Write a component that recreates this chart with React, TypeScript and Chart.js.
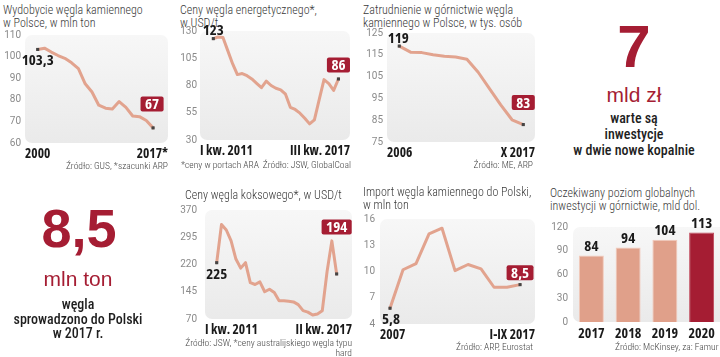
import React, { useEffect, useRef } from 'react';
import { Chart, registerables } from 'chart.js';
Chart.register(...registerables);

const COND = '"Open Sans", Roboto, sans-serif';
const CW = 'bold condensed';
const ARIAL = '"Liberation Sans", Arial, sans-serif';
const LIGHT = 'Roboto, "Open Sans", sans-serif';
const LINE = '#E2A38E';
const RED = '#A51D33';

// 1. Wydobycie węgla kamiennego w Polsce, mln ton (2000–2017)
const outputLabels = ['2000', '2017*'];
const outputValues = [103.3, 103.9, 102.1, 100.5, 99.2, 97.1, 94.4, 87.4, 83.6, 77.5, 76.1, 75.7, 79.2, 76.5, 72.5, 72.2, 70.4, 67];
const outputTicks = [60, 110, 10];

// 2. Ceny węgla energetycznego, USD/t (I kw. 2011 – III kw. 2017)
const steamLabels = ['I kw. 2011', 'III kw. 2017'];
const steamValues = [123, 124.5, 124, 112, 100, 90, 91, 89, 86, 82, 78, 84, 80, 77.5, 76, 72, 60, 58, 54.6, 50, 44.8, 48.5, 67, 85.4, 81.7, 75.5, 86];
const steamTicks = [30, 130, 25];

// 3. Zatrudnienie, tys. osób (2006 – X 2017)
const jobsLabels = ['2006', 'X 2017'];
const jobsValues = [119, 116.2, 116, 115, 114.3, 114, 113, 107, 99.5, 92, 85.2, 83];
const jobsTicks = [75, 125, 10];

// 4. Ceny węgla koksowego, USD/t (I kw. 2011 – II kw. 2017)
const cokingLabels = ['I kw. 2011', 'II kw. 2017'];
const cokingValues = [225, 330, 315, 285, 235, 210, 225, 170, 165, 172, 145, 152, 143, 120, 120, 119, 117, 109.5, 93, 89, 81, 84, 92.5, 200, 285, 194];
const cokingTicks = [70, 370, 75];

// 5. Import węgla kamiennego, mln ton (2007 – I-IX 2017)
const importLabels = ['2007', 'I-IX 2017'];
const importValues = [5.8, 10.2, 10.9, 14.3, 14.95, 10.1, 10.8, 10.3, 8.2, 8.2, 8.5];
const importTicks = [4, 16, 3];

// 6. Oczekiwany poziom globalnych inwestycji w górnictwie, mld dol.
const investYears = ['2017', '2018', '2019', '2020'];
const investValues = [84, 94, 104, 113];
const investTicks = [0, 120, 30];

const fmt = (v: number) => String(v).replace('.', ',');

function bgPlugin(extendRight = 0) {
  return {
    id: 'panelBg',
    beforeDraw(chart: any) {
      const { ctx, chartArea } = chart;
      const { left, top, right, bottom } = chartArea;
      const g = ctx.createLinearGradient(0, top, 0, bottom);
      g.addColorStop(0, '#F7F7F7');
      g.addColorStop(1, '#EAEAEA');
      ctx.save();
      ctx.fillStyle = g;
      ctx.beginPath();
      ctx.roundRect(left, top, right - left + extendRight, bottom - top, 7);
      ctx.fill();
      ctx.restore();
    },
  };
}

type Lab = { index: number; dx: number; dy: number; boxed: boolean };

function labelPlugin(values: number[], labs: Lab[]) {
  return {
    id: 'valueLabels',
    afterDatasetsDraw(chart: any) {
      const { ctx } = chart;
      const meta = chart.getDatasetMeta(0);
      ctx.save();
      ctx.font = `${CW} 15px ${COND}`;
      ctx.textAlign = 'center';
      ctx.textBaseline = 'middle';
      for (const l of labs) {
        const el = meta.data[l.index];
        const x = el.x + l.dx;
        const y = el.y + l.dy;
        const text = fmt(values[l.index]);
        const w = ctx.measureText(text).width;
        if (l.boxed) {
          ctx.fillStyle = RED;
          ctx.beginPath();
          ctx.roundRect(x - w / 2 - 4.5, y - 7.5, w + 9, 15, 2);
          ctx.fill();
          ctx.fillStyle = '#FFFFFF';
        } else {
          ctx.fillStyle = '#1A1A1A';
        }
        ctx.fillText(text, x, y + 1);
      }
      ctx.restore();
    },
  };
}

type LineProps = {
  values: number[];
  xLabels: string[];
  yTicks: number[];
  area: [number, number, number, number]; // left, top, right, bottom (page px)
  xRange: [number, number];
  yW: number;
  yPad: number;
  labs: Lab[];
};

function MiniLine({ values, xLabels, yTicks, area, xRange, yW, yPad, labs }: LineProps) {
  const ref = useRef<HTMLCanvasElement>(null);
  const padT = 9, padR = 4, H = 20;
  const [L, T, R, B] = area;
  const left = L - yW, top = T - padT;
  const width = yW + (R - L) + padR;
  const height = padT + (B - T) + H;
  useEffect(() => {
    const chart = new Chart(ref.current!, {
      type: 'line',
      data: {
        datasets: [{
          data: values.map((v, i) => ({ x: i, y: v })),
          borderColor: LINE,
          borderWidth: 3,
          borderJoinStyle: 'round',
          borderCapStyle: 'round',
          tension: 0,
          pointRadius: values.map((_, i) => (i === 0 || i === values.length - 1 ? 2.2 : 0)),
          pointStyle: 'rect',
          pointBackgroundColor: '#444',
          pointBorderWidth: 0,
        }],
      },
      options: {
        animation: false,
        responsive: false,
        layout: { padding: { top: padT, right: padR, left: 0, bottom: 0 } },
        plugins: { legend: { display: false }, tooltip: { enabled: false } },
        scales: {
          x: {
            type: 'linear',
            min: xRange[0],
            max: xRange[1],
            grid: { display: false, drawTicks: false },
            border: { display: false },
            afterBuildTicks: (s: any) => { s.ticks = [{ value: xRange[0] }, { value: xRange[1] }]; },
            afterFit: (s: any) => { s.height = H; },
            ticks: {
              autoSkip: false,
              maxRotation: 0,
              minRotation: 0,
              align: 'inner',
              padding: 3,
              color: '#1A1A1A',
              font: { family: COND, size: 13.5, weight: CW },
              callback: (_v: any, i: number) => xLabels[i],
            },
          },
          y: {
            min: yTicks[0],
            max: yTicks[1],
            grid: { display: false, drawTicks: false },
            border: { display: false },
            afterFit: (s: any) => { s.width = yW; },
            ticks: {
              stepSize: yTicks[2],
              padding: yPad,
              color: '#8A8A8A',
              font: { family: LIGHT, size: 10 },
            },
          },
        },
      } as any,
      plugins: [bgPlugin(), labelPlugin(values, labs)],
    });
    return () => chart.destroy();
  }, []);
  return (
    <canvas ref={ref} width={width} height={height}
      style={{ position: 'absolute', left, top, width, height }} />
  );
}

function Bars() {
  const ref = useRef<HTMLCanvasElement>(null);
  const L = 573, T = 227, R = 720, B = 322;
  const yW = 26, padT = 20, H = 20;
  const left = L - yW, top = T - padT;
  const width = yW + (R - L);
  const height = padT + (B - T) + H;
  useEffect(() => {
    const chart = new Chart(ref.current!, {
      type: 'bar',
      data: {
        labels: investYears,
        datasets: [{
          data: investValues,
          backgroundColor: investValues.map((_, i) => (i === investValues.length - 1 ? RED : '#E0A08A')),
          borderColor: investValues.map((_, i) => (i === investValues.length - 1 ? '#C0485A' : '#F2C9BA')),
          borderWidth: 1,
          barPercentage: 0.68,
          categoryPercentage: 1,
        }],
      },
      options: {
        animation: false,
        responsive: false,
        layout: { padding: { top: padT, right: 0, left: 0, bottom: 0 } },
        plugins: { legend: { display: false }, tooltip: { enabled: false } },
        scales: {
          x: {
            grid: { display: false, drawTicks: false },
            border: { display: false },
            afterFit: (s: any) => { s.height = H; },
            ticks: { autoSkip: false, maxRotation: 0, minRotation: 0, padding: 4, color: '#1A1A1A', font: { family: COND, size: 14, weight: CW } },
          },
          y: {
            min: investTicks[0],
            max: investTicks[1],
            grid: { display: false, drawTicks: false },
            border: { display: false },
            afterFit: (s: any) => { s.width = yW; },
            ticks: { stepSize: investTicks[2], padding: 5, color: '#8A8A8A', font: { family: LIGHT, size: 10 } },
          },
        },
      } as any,
      plugins: [bgPlugin(10), {
        id: 'barLabels',
        afterDatasetsDraw(c: any) {
          const { ctx } = c;
          const meta = c.getDatasetMeta(0);
          ctx.save();
          ctx.font = `${CW} 15px ${COND}`;
          ctx.textAlign = 'center';
          ctx.textBaseline = 'bottom';
          ctx.fillStyle = '#1A1A1A';
          meta.data.forEach((el: any, i: number) => ctx.fillText(fmt(investValues[i]), el.x, el.y - 1));
          ctx.restore();
        },
      }],
    });
    return () => chart.destroy();
  }, []);
  return (
    <canvas ref={ref} width={width} height={height}
      style={{ position: 'absolute', left, top, width, height }} />
  );
}

const title: React.CSSProperties = {
  position: 'absolute', fontFamily: LIGHT, fontWeight: 300, fontSize: 12, fontStretch: 'condensed',
  lineHeight: '12.5px', color: '#3A3A3A', whiteSpace: 'nowrap',
};
const src: React.CSSProperties = {
  position: 'absolute', fontFamily: LIGHT, fontWeight: 300, fontSize: 9.5, fontStretch: 'condensed',
  lineHeight: '9.5px', color: '#444', whiteSpace: 'nowrap',
};
const note: React.CSSProperties = {
  position: 'absolute', fontFamily: LIGHT, fontWeight: 500, fontSize: 14, fontStretch: 'condensed',
  lineHeight: '16px', color: '#1E1E1E', textAlign: 'center', whiteSpace: 'nowrap',
};

export default function App() {
  return (
    <div style={{ position: 'fixed', left: 0, top: 0, width: 720, height: 357, overflow: 'hidden', background: '#FFFFFF' }}>
      {/* Panel 1 */}
      <div style={{ ...title, left: 3, top: 4 }}>Wydobycie węgla kamiennego<br />w Polsce, w mln ton</div>
      <MiniLine values={outputValues} xLabels={outputLabels} yTicks={outputTicks}
        area={[25, 34, 168, 143]} xRange={[-1.87, 19.2]} yW={25} yPad={4}
        labs={[{ index: 0, dx: 0, dy: 10.5, boxed: false }, { index: outputValues.length - 1, dx: -1, dy: -24, boxed: true }]} />
      <div style={{ ...src, left: 0, width: 168, textAlign: 'right', top: 161 }}>Źródło: GUS, *szacunki ARP</div>

      {/* Panel 2 */}
      <div style={{ ...title, left: 180, top: 4 }}>Ceny węgla energetycznego*,<br />w USD/t</div>
      <MiniLine values={steamValues} xLabels={steamLabels} yTicks={steamTicks}
        area={[200, 31, 350, 140]} xRange={[-2.77, 28.4]} yW={22} yPad={3}
        labs={[{ index: 0, dx: 0, dy: -8.5, boxed: false }, { index: steamValues.length - 1, dx: 0, dy: -14, boxed: true }]} />
      <div style={{ ...src, left: 181, width: 170, top: 160, display: 'flex', justifyContent: 'space-between' }}>
        <span>*ceny w portach ARA</span><span>Źródło: JSW, GlobalCoal</span>
      </div>

      {/* Panel 3 */}
      <div style={{ ...title, left: 363, top: 4 }}>Zatrudnienie w górnictwie węgla<br />kamiennego w Polsce, w tys. osób</div>
      <MiniLine values={jobsValues} xLabels={jobsLabels} yTicks={jobsTicks}
        area={[387, 32, 535, 142]} xRange={[-1.09, 12.04]} yW={24} yPad={4}
        labs={[{ index: 0, dx: -1, dy: -8, boxed: false }, { index: jobsValues.length - 1, dx: 0, dy: -22, boxed: true }]} />
      <div style={{ ...src, left: 360, width: 173, textAlign: 'right', top: 160 }}>Źródło: ME, ARP</div>

      {/* Panel 4 */}
      <div style={{ position: 'absolute', left: 560, width: 148, top: 17, textAlign: 'center', font: `bold 60px ${ARIAL}`, lineHeight: '60px', color: RED }}>7</div>
      <div style={{ position: 'absolute', left: 560, width: 148, top: 84, textAlign: 'center', font: `21px ${ARIAL}`, lineHeight: '21px', color: RED }}>mld zł</div>
      <div style={{ ...note, left: 560, width: 148, top: 110 }}>warte są<br />inwestycje<br />w dwie nowe kopalnie</div>

      {/* Panel 5 */}
      <div style={{ position: 'absolute', left: 0, width: 158, top: 201, textAlign: 'center', font: `bold 54px ${ARIAL}`, lineHeight: '54px', color: RED }}>8,5</div>
      <div style={{ position: 'absolute', left: 0, width: 156, top: 268, textAlign: 'center', font: `21px ${ARIAL}`, lineHeight: '21px', color: RED }}>mln ton</div>
      <div style={{ ...note, left: 0, width: 156, top: 297, lineHeight: '14.5px' }}>węgla<br />sprowadzono do Polski<br />w 2017 r.</div>

      {/* Panel 6 */}
      <div style={{ ...title, left: 185, top: 189 }}>Ceny węgla koksowego*, w USD/t</div>
      <MiniLine values={cokingValues} xLabels={cokingLabels} yTicks={cokingTicks}
        area={[205, 205, 352, 319]} xRange={[-2.44, 28.2]} yW={26} yPad={8}
        labs={[{ index: 0, dx: 0, dy: 11, boxed: false }, { index: cokingValues.length - 1, dx: 0, dy: -47, boxed: true }]} />
      <div style={{ ...src, left: 180, width: 172, textAlign: 'right', top: 338 }}>Źródło: JSW, *ceny australijskiego węgla typu<br />hard</div>

      {/* Panel 7 */}
      <div style={{ ...title, left: 363, top: 186 }}>Import węgla kamiennego do Polski,<br />w mln ton</div>
      <MiniLine values={importValues} xLabels={importLabels} yTicks={importTicks}
        area={[380, 217, 535, 324]} xRange={[-0.77, 11.15]} yW={20} yPad={5}
        labs={[{ index: 0, dx: 1, dy: 10, boxed: false }, { index: importValues.length - 1, dx: 0, dy: -12, boxed: true }]} />
      <div style={{ ...src, left: 360, width: 173, textAlign: 'right', top: 342 }}>Źródło: ARP, Eurostat</div>

      {/* Panel 8 */}
      <div style={{ ...title, left: 550, top: 187 }}>Oczekiwany poziom globalnych<br />inwestycji w górnictwie, mld dol.</div>
      <Bars />
      <div style={{ ...src, left: 615, top: 342 }}>Źródło: McKinsey, za: Famur</div>
    </div>
  );
}
